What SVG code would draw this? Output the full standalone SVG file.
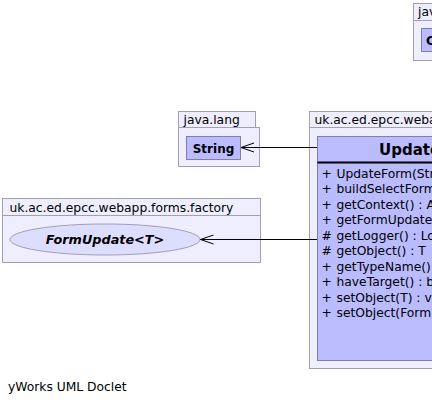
<svg xmlns="http://www.w3.org/2000/svg" width="432" height="406" viewBox="0 0 432 406">
<defs>
<style>
.pkg{fill:#eeeeff;stroke:#a0a0b0;stroke-width:1}
.cls{fill:#bbbbff;stroke:#8080a0;stroke-width:1}
.t{font-family:"DejaVu Sans",sans-serif;font-size:12.3px;fill:#000}
.edge{stroke:#000;stroke-width:1;fill:none}
</style>
<marker id="open" markerWidth="16" markerHeight="12" refX="14" refY="6" orient="auto" markerUnits="userSpaceOnUse">
<path d="M1,1.5 L14,6 L1,10.5" fill="none" stroke="#000" stroke-width="1"/>
</marker>
</defs>
<rect width="432" height="406" fill="#fff"/>
<g id="pkg-java-top">
<rect class="pkg" x="413.5" y="20.5" width="30" height="40"/>
<rect class="pkg" x="413.5" y="3.5" width="30" height="17"/>
<text class="t" x="418" y="16">java</text>
<rect class="cls" x="421.5" y="28.5" width="20" height="23"/>
<text class="t" x="426" y="45" style="font-weight:bold">C</text>
</g>
<g id="pkg-java-lang">
<rect class="pkg" x="178.5" y="127.5" width="81" height="39"/>
<rect class="pkg" x="178.5" y="111.5" width="77" height="16"/>
<text class="t" x="183.5" y="124">java.lang</text>
</g>
<g id="String">
<rect class="cls" x="186.5" y="136.5" width="54" height="23"/>
<text class="t" x="213.5" y="152.5" text-anchor="middle" style="font-weight:bold;font-size:12px">String</text>
</g>
<g id="pkg-factory">
<rect class="pkg" x="2.5" y="215.5" width="258" height="47"/>
<rect class="pkg" x="2.5" y="198.5" width="258" height="17"/>
<text class="t" x="9.5" y="211.5">uk.ac.ed.epcc.webapp.forms.factory</text>
</g>
<g id="FormUpdate">
<ellipse cx="105" cy="239.5" rx="95" ry="15.5" fill="#ddddff" stroke="#a0a0b0"/>
<text class="t" x="105" y="244" text-anchor="middle" style="font-weight:bold;font-style:italic;font-size:12.8px">FormUpdate&lt;T&gt;</text>
</g>
<g id="pkg-webapp">
<rect class="pkg" x="309.5" y="127.5" width="130" height="241"/>
<rect class="pkg" x="309.5" y="111.5" width="130" height="16"/>
<text class="t" x="314.5" y="124">uk.ac.ed.epcc.webapp.forms</text>
</g>
<g id="UpdateForm">
<rect class="cls" x="317.5" y="136.5" width="130" height="224"/>
<text x="379" y="155" style="font-family:'DejaVu Sans',sans-serif;font-size:15px;font-weight:bold">UpdateForm&lt;T&gt;</text>
<line x1="317.5" y1="162.5" x2="447" y2="162.5" stroke="#000" stroke-width="2"/>
<text class="t" x="321.5" y="177.5">+</text><text class="t" x="336.5" y="177.5">UpdateForm(String)</text>
<text class="t" x="321.5" y="193">+</text><text class="t" x="336.5" y="193">buildSelectForm()</text>
<text class="t" x="321.5" y="208.5">+</text><text class="t" x="336.5" y="208.5">getContext() : AppContext</text>
<text class="t" x="321.5" y="224">+</text><text class="t" x="336.5" y="224">getFormUpdate()</text>
<text class="t" x="321.5" y="239.5">#</text><text class="t" x="336.5" y="239.5">getLogger() : Logger</text>
<text class="t" x="321.5" y="255">#</text><text class="t" x="336.5" y="255">getObject() : T</text>
<text class="t" x="321.5" y="270.5">+</text><text class="t" x="336.5" y="270.5">getTypeName()</text>
<text class="t" x="321.5" y="286">+</text><text class="t" x="336.5" y="286">haveTarget() : boolean</text>
<text class="t" x="321.5" y="301.5">+</text><text class="t" x="336.5" y="301.5">setObject(T) : void</text>
<text class="t" x="321.5" y="317">+</text><text class="t" x="336.5" y="317">setObject(Form)</text>
</g>
<g id="connectors">
<line class="edge" x1="317" y1="147.5" x2="241" y2="147.5" marker-end="url(#open)"/>
<line class="edge" x1="317" y1="239.5" x2="200.5" y2="239.5" marker-end="url(#open)"/>
</g>
<text class="t" x="8" y="391">yWorks UML Doclet</text>
</svg>
